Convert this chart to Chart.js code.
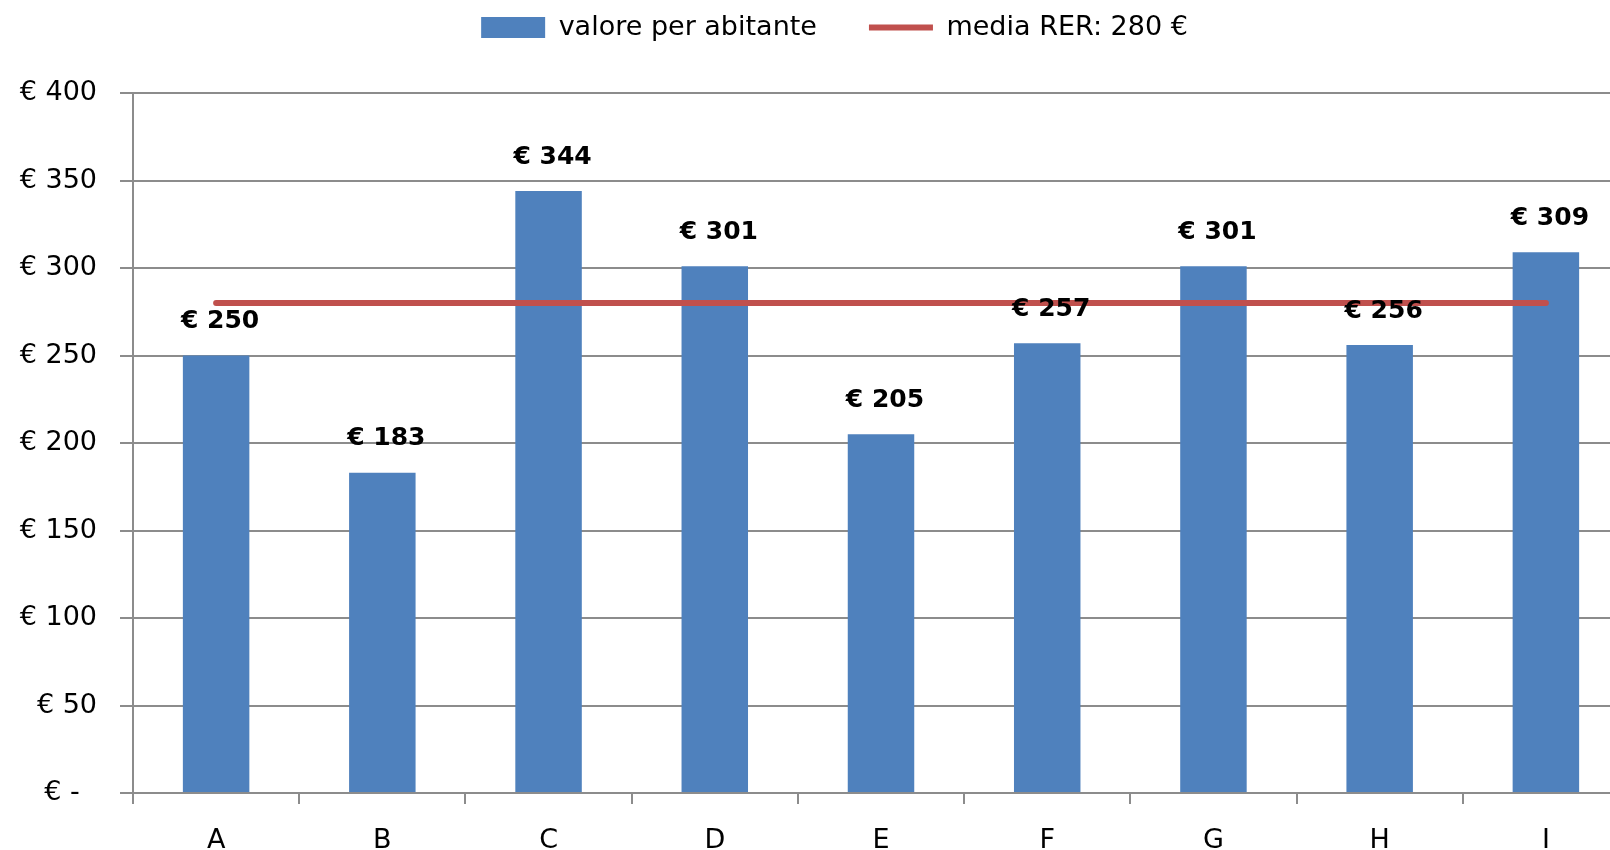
<!DOCTYPE html>
<html>
<head>
<meta charset="utf-8">
<script src="https://cdn.jsdelivr.net/npm/chart.js@4.4.1/dist/chart.umd.min.js"></script>
<style>
  html, body { margin: 0; padding: 0; background: #fff; overflow: hidden; }
  #wrap { width: 1640px; height: 850px; position: relative; }
</style>
</head>
<body>
<div id="wrap"><canvas id="chart"></canvas></div>
<script>
const categories = ["A", "B", "C", "D", "E", "F", "G", "H", "I"];
const perInhabitant = [250, 183, 344, 301, 205, 257, 301, 256, 309];
const regionalAverage = 280;
const averageLine = categories.map(() => regionalAverage);

const barColor = "#4F81BD";
const lineColor = "#C0504D";
const gridColor = "#8C8C8C";

Chart.defaults.font.family = "'DejaVu Sans', sans-serif";
Chart.defaults.color = "#000";

// value labels above each bar ("€ 250" etc.)
const valueLabels = {
  id: "valueLabels",
  afterDatasetsDraw(chart) {
    const { ctx } = chart;
    const meta = chart.getDatasetMeta(0);
    ctx.save();
    ctx.font = "bold 25px 'DejaVu Sans'";
    ctx.fillStyle = "#000";
    ctx.textAlign = "center";
    ctx.textBaseline = "middle";
    meta.data.forEach((bar, i) => {
      ctx.fillText("€ " + perInhabitant[i], bar.x + 4, bar.y - 34);
    });
    ctx.restore();
  },
};

// legend box takes the whole band above the plot, items drawn near the top
const legendPlace = {
  id: "legendPlace",
  beforeLayout(chart) {
    const legend = chart.legend;
    if (legend._patched) return;
    const fit = legend.fit;
    legend.fit = function () {
      fit.call(this);
      this.height = 93;
    };
    legend._patched = true;
  },
  afterLayout(chart) {
    const legend = chart.legend;
    legend.left += 20;
    legend.right += 20;
    legend.top = -38;
  },
};

new Chart(document.getElementById("chart"), {
  data: {
    labels: categories,
    datasets: [
      {
        type: "bar",
        label: "valore per abitante",
        data: perInhabitant,
        backgroundColor: barColor,
        borderWidth: 0,
        categoryPercentage: 1,
        barPercentage: 0.4,
        pointStyle: "rect",
        order: 1,
      },
      {
        type: "line",
        label: "media RER: 280 €",
        data: averageLine,
        borderColor: lineColor,
        backgroundColor: lineColor,
        borderWidth: 6,
        borderCapStyle: "round",
        pointRadius: 0,
        pointStyle: "line",
        order: 0,
      },
    ],
  },
  options: {
    responsive: true,
    maintainAspectRatio: false,
    animation: false,
    layout: { padding: { left: 0, right: 11, top: 0, bottom: 0 } },
    plugins: {
      legend: {
        position: "top",
        labels: {
          usePointStyle: true,
          pointStyleWidth: 64,
          boxHeight: 21,
          padding: 52,
          font: { size: 27 },
          color: "#000",
          sort: (a, b) => a.datasetIndex - b.datasetIndex,
        },
      },
      tooltip: { enabled: false },
    },
    scales: {
      x: {
        offset: true,
        grid: {
          offset: true,
          drawOnChartArea: false,
          drawTicks: true,
          tickLength: 11,
          color: gridColor,
          lineWidth: 2,
        },
        border: { color: gridColor, width: 2 },
        ticks: { font: { size: 27 }, padding: 21, color: "#000" },
        afterFit: (scale) => { scale.height = 57; },
      },
      y: {
        min: 0,
        max: 400,
        ticks: {
          stepSize: 50,
          padding: 23,
          font: { size: 27 },
          color: "#000",
          callback: (v) => (v === 0 ? "€ -  " : "€ " + v),
        },
        grid: { color: gridColor, lineWidth: 2, tickLength: 13 },
        border: { color: gridColor, width: 2 },
        afterFit: (scale) => { scale.width = 133; },
      },
    },
  },
  plugins: [valueLabels, legendPlace],
});
</script>
</body>
</html>
